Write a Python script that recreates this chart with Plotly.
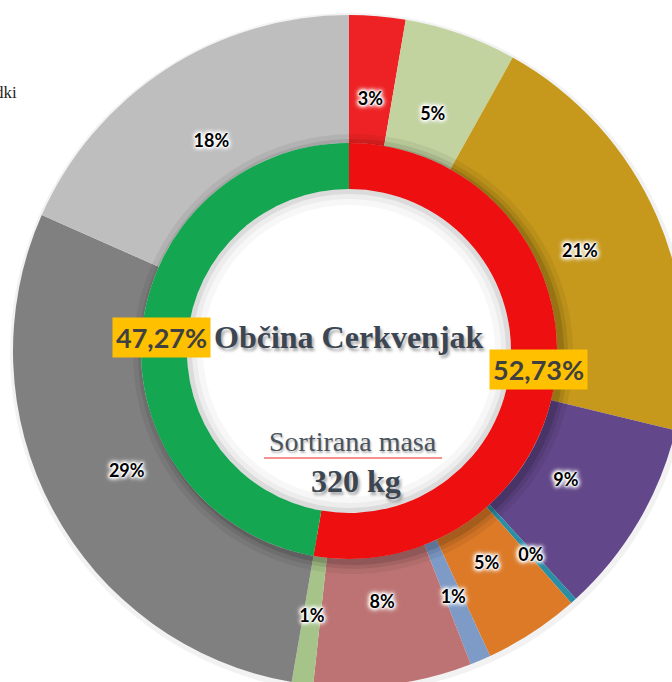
import plotly.graph_objects as go

# ---------------- data ----------------
outer_labels = ["Frakcija 1", "Frakcija 2", "Frakcija 3", "Frakcija 4", "Frakcija 5",
                "Frakcija 6", "Frakcija 7", "Frakcija 8", "Frakcija 9", "Frakcija 10",
                "Frakcija 11"]
outer_values = [2.7, 5.4, 20.7, 9.4, 0.3, 4.6, 1.0, 7.6, 1.03, 28.9, 18.37]
outer_colors = ["#EE2224", "#C2D3A0", "#C6991C", "#62478A", "#2A8EA5", "#DC7A28",
                "#7E9AC6", "#BD7373", "#A6C389", "#808080", "#BEBEBE"]

inner_labels = ["Skupina A", "Skupina B"]
inner_values = [52.73, 47.27]
inner_colors = ["#EE1010", "#14A651"]

title_text = "Občina Cerkvenjak"
sub_label = "Sortirana masa"
mass_text = "320 kg"
legend_fragment = "odpadki"

# ---------------- geometry ----------------
W, H = 700, 700
CX, CY = 349, 351
R_OUT, R_MID, R_IN = 336, 208, 162


def dom(r, cx=CX, cy=CY):
    return dict(x=[(cx - r) / W, (cx + r) / W], y=[1 - (cy + r) / H, 1 - (cy - r) / H])


def fmt_pct(v):
    return f"{v:.2f}%".replace(".", ",")


fig = go.Figure()

# faint shadow around the outer edge of the big ring
fig.add_trace(go.Pie(
    values=[1], labels=["s"], sort=False, hole=320 / 340, domain=dom(340, CX + 1, CY + 2),
    marker=dict(colors=["rgba(0,0,0,0.05)"], line=dict(width=0)),
    textinfo="none", hoverinfo="skip", showlegend=False,
))

# outer ring
fig.add_trace(go.Pie(
    labels=outer_labels, values=outer_values, sort=False, direction="clockwise",
    rotation=0, hole=R_MID / R_OUT, domain=dom(R_OUT),
    marker=dict(colors=outer_colors, line=dict(width=0)),
    textinfo="none", hoverinfo="label+percent", showlegend=False,
))

# soft shadow of the inner ring cast onto the outer ring
for r, a in [(220, 0.06), (215, 0.08), (211, 0.12)]:
    fig.add_trace(go.Pie(
        values=[1], labels=["s"], sort=False, hole=185 / r, domain=dom(r, CX + 4, CY + 3),
        marker=dict(colors=[f"rgba(0,0,0,{a})"], line=dict(width=0)),
        textinfo="none", hoverinfo="skip", showlegend=False,
    ))

# inner ring
fig.add_trace(go.Pie(
    labels=inner_labels, values=inner_values, sort=False, direction="clockwise",
    rotation=0, hole=R_IN / R_MID, domain=dom(R_MID),
    marker=dict(colors=inner_colors, line=dict(width=0)),
    textinfo="none", hoverinfo="label+percent", showlegend=False,
))

# inner glow (shadow inside the white centre)
for r_o, r_i, a in [(162, 157, 0.14), (157, 152, 0.07), (152, 146, 0.03)]:
    fig.add_trace(go.Pie(
        values=[1], labels=["s"], sort=False, hole=r_i / r_o, domain=dom(r_o),
        marker=dict(colors=[f"rgba(0,0,0,{a})"], line=dict(width=0)),
        textinfo="none", hoverinfo="skip", showlegend=False,
    ))

# percentage labels of the outer ring (transparent ring used for placement)
R_LAB, R_LAB_IN = 275, 229
glow = ", ".join(["0px 0px 2px #ffffff"] * 3 + ["0px 0px 4px #ffffff"] * 3 + ["0px 0px 6px #ffffff"] * 2)
fig.add_trace(go.Pie(
    labels=outer_labels, values=outer_values, sort=False, direction="clockwise",
    rotation=0, hole=R_LAB_IN / R_LAB, domain=dom(R_LAB),
    marker=dict(colors=["rgba(0,0,0,0)"] * len(outer_values), line=dict(width=0)),
    textinfo="percent", texttemplate="%{percent:.0%}", textposition="inside",
    insidetextorientation="horizontal",
    textfont=dict(family="Lato", size=18, color="#000000", weight="bold", shadow=glow),
    hoverinfo="skip", showlegend=False,
))

serif = "Liberation Serif"
annotations = [
    dict(x=349 / W, y=1 - 337 / H, text=title_text,
         font=dict(family=serif, size=32, color="#3B4652", weight="bold",
                   shadow="2px 3px 3px rgba(0,0,0,0.35)")),
    dict(x=353 / W, y=1 - 441 / H, text=sub_label,
         font=dict(family=serif, size=28, color="#4A545E",
                   shadow="1px 2px 2px rgba(0,0,0,0.3)")),
    dict(x=356 / W, y=1 - 481 / H, text=mass_text,
         font=dict(family=serif, size=32, color="#3B4652", weight="bold",
                   shadow="2px 3px 3px rgba(0,0,0,0.35)")),
    dict(x=161 / W, y=1 - 337.5 / H, text=fmt_pct(inner_values[1]),
         bgcolor="#FFC000", borderpad=3,
         font=dict(family="Lato", size=27, color="#404040", weight="bold")),
    dict(x=538 / W, y=1 - 369 / H, text=fmt_pct(inner_values[0]),
         bgcolor="#FFC000", borderpad=3,
         font=dict(family="Lato", size=27, color="#404040", weight="bold")),
    dict(x=19 / W, y=1 - 92 / H, text=legend_fragment, xanchor="right",
         font=dict(family=serif, size=17, color="#222222")),
]
for a in annotations:
    a["xref"] = "paper"
    a["yref"] = "paper"
    a["showarrow"] = False
    a.setdefault("xanchor", "center")
    a["yanchor"] = "middle"

fig.update_layout(
    width=W, height=H, margin=dict(l=0, r=0, t=0, b=0, pad=0),
    paper_bgcolor="white", plot_bgcolor="white", showlegend=False,
    uniformtext=dict(minsize=18, mode="show"),
    annotations=annotations,
    shapes=[dict(type="line", xref="paper", yref="paper",
                 x0=264 / W, x1=442 / W, y0=1 - 458 / H, y1=1 - 458 / H,
                 line=dict(color="#F26D6D", width=1.5))],
)

fig.write_html(
    "out.html",
    config={"displayModeBar": False},
    post_script="document.body.style.margin='0';document.body.style.overflow='hidden';"
                "document.documentElement.style.overflow='hidden';",
)
